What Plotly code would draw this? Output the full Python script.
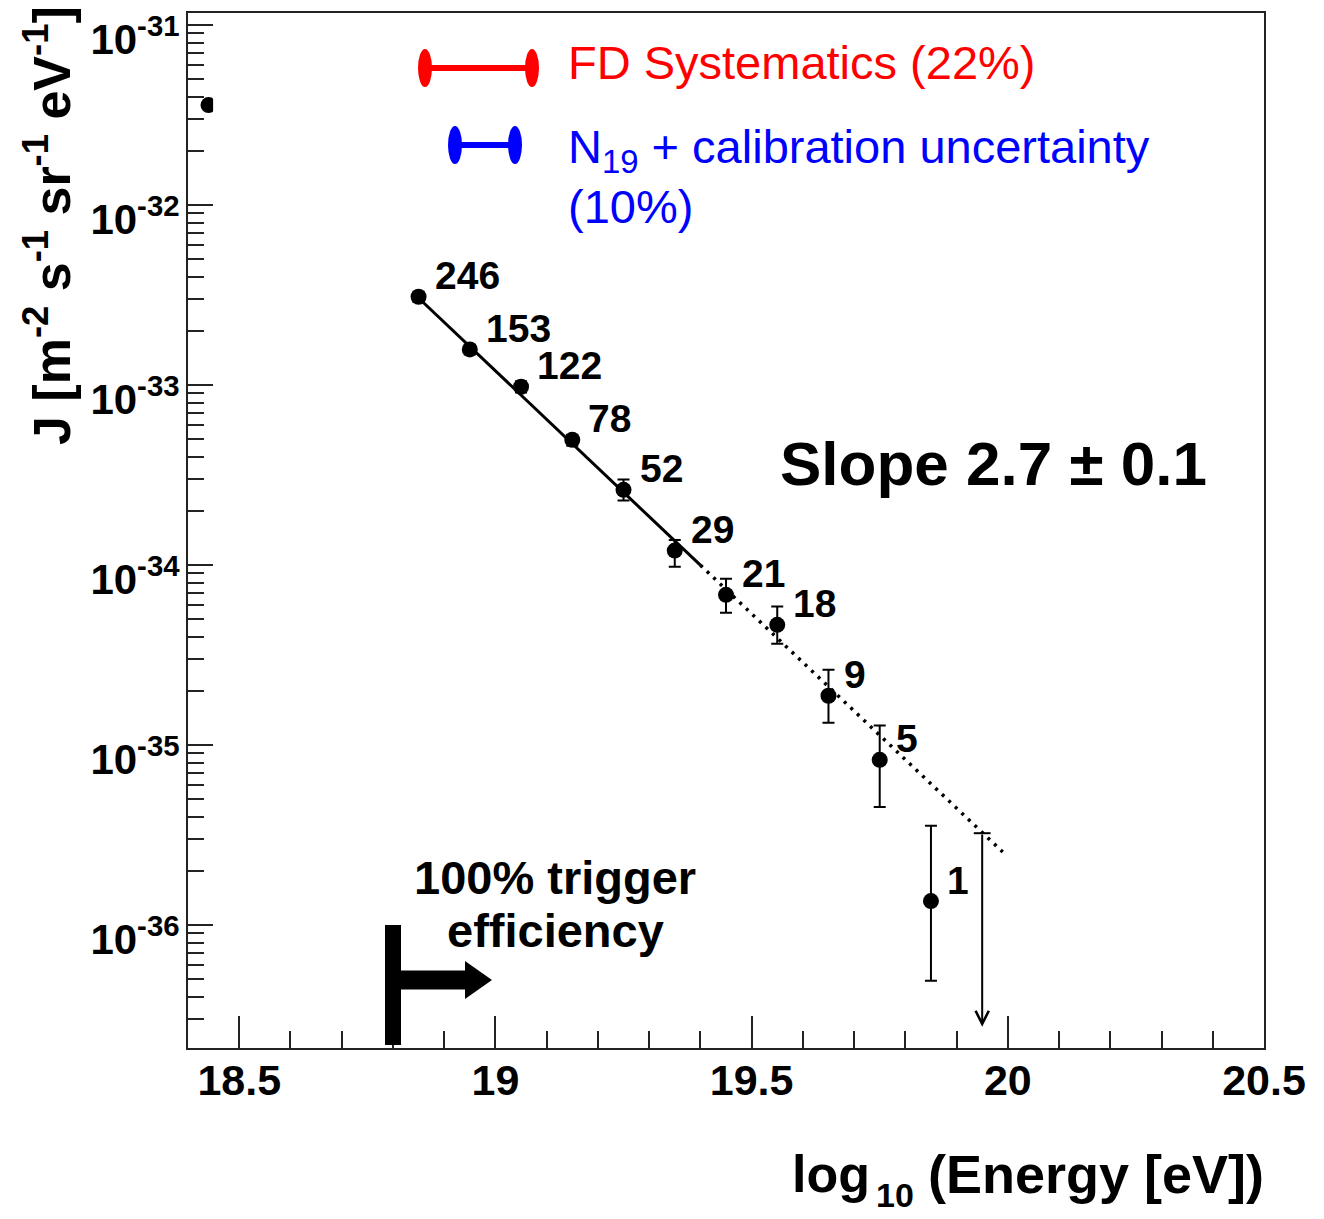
import math
import plotly.graph_objects as go

# ---------------- data ----------------
log_energy = [18.85, 18.95, 19.05, 19.15, 19.25, 19.35, 19.45, 19.55, 19.65, 19.75, 19.85]
flux_J = [3.10e-33, 1.58e-33, 9.8e-34, 4.97e-34, 2.62e-34, 1.205e-34, 6.84e-35, 4.66e-35, 1.88e-35, 8.28e-36, 1.36e-36]
flux_hi = [3.30e-33, 1.68e-33, 1.05e-33, 5.30e-34, 2.99e-34, 1.38e-34, 8.39e-35, 5.89e-35, 2.62e-35, 1.285e-35, 3.56e-36]
flux_lo = [2.90e-33, 1.48e-33, 0.91e-33, 4.60e-34, 2.29e-34, 9.8e-35, 5.43e-35, 3.66e-35, 1.33e-35, 4.53e-36, 4.91e-37]
event_counts = [246, 153, 122, 78, 52, 29, 21, 18, 9, 5, 1]

hidden_x = [18.44]
hidden_J = [3.6e-32]

ul_x = 19.95
ul_J = 3.24e-36
ul_arrow_end_J = 2.72e-37

fit_solid_x = [18.85, 19.40]
fit_solid_J = [3.05e-33, 1.0e-34]
fit_dot_x = [19.40, 19.99]
fit_dot_J = [1.0e-34, 2.55e-36]

x_ticks = [18.5, 19, 19.5, 20, 20.5]
x_ticktext = ["18.5", "19", "19.5", "20", "20.5"]
y_exps = [-36, -35, -34, -33, -32, -31]

# ---------------- geometry helpers (decorations only) ----------------
W, H = 1324, 1219
L, R, T, B = 188, 60, 13, 171
PW, PH = W - L - R, H - T - B


def px(xp):
    return (xp - L) / PW


def py(yp):
    return (H - B - yp) / PH


BOLD = dict(family="Liberation Sans", color="black", weight="bold")

fig = go.Figure()

# fit line
fig.add_trace(go.Scatter(x=fit_solid_x, y=fit_solid_J, mode="lines",
                         line=dict(color="black", width=3), hoverinfo="skip", showlegend=False))
fig.add_trace(go.Scatter(x=fit_dot_x, y=fit_dot_J, mode="lines",
                         line=dict(color="black", width=3.5, dash="3px,6px"), hoverinfo="skip", showlegend=False))

# hidden (masked) point
fig.add_trace(go.Scatter(x=hidden_x, y=hidden_J, mode="markers",
                         marker=dict(color="black", size=16), showlegend=False))

# data points
err_plus = [h - j for h, j in zip(flux_hi, flux_J)]
err_minus = [j - l for j, l in zip(flux_J, flux_lo)]
fig.add_trace(go.Scatter(
    x=log_energy, y=flux_J, mode="markers",
    marker=dict(color="black", size=16),
    error_y=dict(type="data", symmetric=False, array=err_plus, arrayminus=err_minus,
                 color="black", thickness=2, width=6),
    showlegend=False))

# upper limit cap
fig.add_trace(go.Scatter(x=[ul_x], y=[ul_J], mode="markers",
                         marker=dict(symbol="line-ew", size=12, line=dict(color="black", width=2)),
                         showlegend=False))

annotations = []
# upper limit arrow
annotations.append(dict(x=ul_x, y=math.log10(ul_arrow_end_J), ax=ul_x, ay=math.log10(ul_J),
                        xref="x", yref="y", axref="x", ayref="y", text="", showarrow=True,
                        arrowhead=5, arrowsize=1.3, arrowwidth=2, arrowcolor="black", standoff=0))

# event count labels
for xv, jv, n in zip(log_energy, flux_J, event_counts):
    annotations.append(dict(x=xv, y=math.log10(jv), xref="x", yref="y", text=str(n),
                            showarrow=False, xanchor="left", yanchor="middle",
                            xshift=14, yshift=21, font=dict(BOLD, size=39)))

# slope text
annotations.append(dict(x=px(778), y=py(463), xref="paper", yref="paper", text="Slope 2.7 ± 0.1",
                        showarrow=False, xanchor="left", yanchor="middle", font=dict(BOLD, size=62)))

# trigger efficiency text
for txt, yy in [("100% trigger", 877), ("efficiency", 930)]:
    annotations.append(dict(x=px(555), y=py(yy), xref="paper", yref="paper", text=txt,
                            showarrow=False, xanchor="center", yanchor="middle", font=dict(BOLD, size=47)))

# legend texts
annotations.append(dict(x=px(566), y=py(62), xref="paper", yref="paper", text="FD Systematics (22%)",
                        showarrow=False, xanchor="left", yanchor="middle",
                        font=dict(family="Liberation Sans", size=47, color="#ff0000")))
annotations.append(dict(x=px(566), y=py(150), xref="paper", yref="paper",
                        text="N<sub>19</sub> + calibration uncertainty",
                        showarrow=False, xanchor="left", yanchor="middle",
                        font=dict(family="Liberation Sans", size=47, color="#0000ff")))
annotations.append(dict(x=px(566), y=py(207), xref="paper", yref="paper", text="(10%)",
                        showarrow=False, xanchor="left", yanchor="middle",
                        font=dict(family="Liberation Sans", size=47, color="#0000ff")))

# axis titles
annotations.append(dict(x=px(48), y=py(226), xref="paper", yref="paper",
                        text="J [m<sup>-2</sup> s<sup>-1</sup> sr<sup>-1</sup> eV<sup>-1</sup>]",
                        textangle=-90, showarrow=False, xanchor="center", yanchor="middle",
                        font=dict(BOLD, size=52)))
annotations.append(dict(x=px(872), y=py(1174), xref="paper", yref="paper", text="log",
                        showarrow=False, xanchor="right", yanchor="middle", font=dict(BOLD, size=52)))
annotations.append(dict(x=px(874), y=py(1195), xref="paper", yref="paper", text="10",
                        showarrow=False, xanchor="left", yanchor="middle", font=dict(BOLD, size=34)))
annotations.append(dict(x=px(1266), y=py(1174), xref="paper", yref="paper", text="(Energy [eV])",
                        showarrow=False, xanchor="right", yanchor="middle", font=dict(BOLD, size=54)))

shapes = []
# white mask over low-energy points
shapes.append(dict(type="rect", xref="x", yref="paper", x0=18.449, x1=18.808, y0=py(256), y1=0.997,
                   fillcolor="white", line=dict(width=0), layer="above"))
# trigger marker
shapes.append(dict(type="rect", xref="paper", yref="paper", x0=px(385), x1=px(401), y0=py(1045), y1=py(925),
                   fillcolor="black", line=dict(width=0), layer="above"))
shapes.append(dict(type="rect", xref="paper", yref="paper", x0=px(400), x1=px(466), y0=py(989.5), y1=py(970.5),
                   fillcolor="black", line=dict(width=0), layer="above"))
shapes.append(dict(type="path", xref="paper", yref="paper",
                   path=f"M {px(465)},{py(961)} L {px(492)},{py(980)} L {px(465)},{py(999)} Z",
                   fillcolor="black", line=dict(width=0), layer="above"))
# legend handles
for (x0, x1, yc, col) in [(425, 532, 68, "#ff0000"), (455, 515, 145, "#0000ff")]:
    shapes.append(dict(type="line", xref="paper", yref="paper", x0=px(x0), x1=px(x1), y0=py(yc), y1=py(yc),
                       line=dict(color=col, width=6)))
    for xc in (x0, x1):
        shapes.append(dict(type="circle", xref="paper", yref="paper", x0=px(xc - 7), x1=px(xc + 7),
                           y0=py(yc + 19), y1=py(yc - 19), fillcolor=col, line=dict(width=0)))

minor_y = [m * 10.0 ** e for e in range(-37, -30) for m in range(2, 10)]

fig.update_layout(
    width=W, height=H,
    margin=dict(l=L, r=R, t=T, b=B, autoexpand=False),
    paper_bgcolor="white", plot_bgcolor="white",
    showlegend=False,
    annotations=annotations,
    shapes=shapes,
    xaxis=dict(range=[18.4, 20.5], tickmode="array", tickvals=x_ticks, ticktext=x_ticktext,
               ticks="inside", ticklen=32, tickwidth=2, tickcolor="#222",
               minor=dict(ticks="inside", ticklen=17, tickwidth=2, tickcolor="#222", dtick=0.1, tick0=18.4,
                          showgrid=False),
               showline=True, linewidth=2, linecolor="#222", mirror=True, automargin=False,
               showgrid=False, zeroline=False, ticklabeloverflow="allow", ticklabelstandoff=-7,
               tickfont=dict(BOLD, size=43)),
    yaxis=dict(type="log", range=[-36.683, -30.932], tickmode="array",
               tickvals=[10.0 ** e for e in y_exps],
               ticktext=[f"10<sup>{e}</sup>" for e in y_exps],
               ticks="inside", ticklen=25, tickwidth=2, tickcolor="#222",
               minor=dict(ticks="inside", ticklen=16, tickwidth=2, tickcolor="#222",
                          tickmode="array", tickvals=minor_y, showgrid=False),
               showline=True, linewidth=2, linecolor="#222", mirror=True, automargin=False,
               showgrid=False, zeroline=False, ticklabeloverflow="allow", ticklabelshift=14,
               ticklabelstandoff=-2,
               tickfont=dict(BOLD, size=42)),
)

fig.write_html("out.html")
